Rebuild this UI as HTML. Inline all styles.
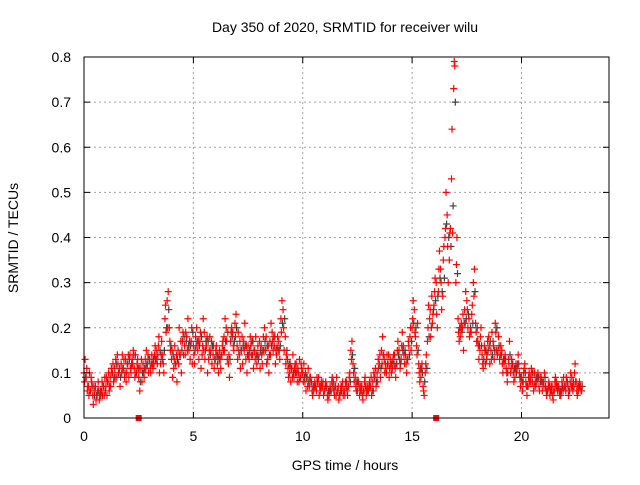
<!DOCTYPE html>
<html><head><meta charset="utf-8"><style>
body{margin:0;background:#fff}
svg text{font-family:"Liberation Sans",sans-serif;font-size:14px;fill:#000}
</style></head><body>
<svg id="chart" width="640" height="480" viewBox="0 0 640 480" xmlns="http://www.w3.org/2000/svg">
<rect width="640" height="480" fill="#fff"/>
<text x="345" y="32" text-anchor="middle">Day 350 of 2020, SRMTID for receiver wilu</text>
<text x="345" y="470" text-anchor="middle">GPS time / hours</text>
<text transform="translate(18,238) rotate(-90)" text-anchor="middle">SRMTID / TECUs</text>
<g id="grid"></g>
<g id="marks"></g>
<rect x="84" y="57" width="525" height="361" fill="none" stroke="#000" stroke-width="1"/>
<g id="ticks"></g>
</svg>
<script>
const xTicks=[0,5,10,15,20];
const yTicks=[0,0.1,0.2,0.3,0.4,0.5,0.6,0.7,0.8];
const yTickLabels=["0","0.1","0.2","0.3","0.4","0.5","0.6","0.7","0.8"];
const gapHours=[2.5,16.1];
const seriesA=[
.10,.09,.07,.06,.05,.06,.05,.04,.06,.07,
.07,.08,.09,.10,.11,.09,.10,.12,.11,.13,
.12,.14,.13,.11,.10,.09,.11,.12,.13,.12,
.13,.14,.12,.15,.16,.12,.14,.22,.26,.20,
.13,.11,.12,.15,.14,.17,.16,.18,.15,.17,
.16,.18,.15,.17,.14,.19,.16,.13,.15,.14,
.13,.12,.15,.14,.18,.20,.12,.17,.19,.21,
.16,.14,.15,.17,.13,.16,.18,.14,.15,.12,
.14,.16,.18,.15,.13,.17,.19,.16,.14,.17,
.22,.24,.18,.13,.10,.11,.09,.12,.10,.09,
.10,.08,.09,.07,.08,.06,.07,.08,.06,.07,
.06,.07,.05,.06,.08,.07,.06,.05,.07,.06,
.08,.07,.15,.12,.09,.06,.05,.07,.06,.05,
.06,.07,.08,.09,.10,.12,.15,.14,.11,.12,
.13,.11,.14,.12,.15,.13,.16,.14,.13,.18,
.20,.24,.16,.12,.09,.07,.10,.17,.22,.27,
.25,.30,.28,.33,.27,.40,.45,.35,.53,.73,
.30,.22,.18,.20,.24,.26,.22,.19,.30,.21,
.17,.15,.14,.16,.13,.18,.15,.17,.21,.14,
.13,.15,.12,.11,.13,.10,.12,.09,.11,.10,
.09,.10,.08,.07,.09,.08,.10,.08,.07,.09,
.08,.07,.06,.05,.07,.06,.08,.07,.05,.06,
.07,.08,.06,.09,.07,.08,.06,.07];
const seriesB=[
.13,.06,.10,.08,.07,.04,.08,.06,.05,.09,
.05,.06,.11,.08,.13,.12,.07,.14,.09,.10,
.09,.10,.15,.14,.13,.06,.08,.09,.15,.10,
.10,.11,.16,.12,.10,.17,.10,.19,.28,.15,
.09,.16,.08,.20,.10,.14,.19,.22,.13,.12,
.12,.20,.13,.11,.22,.15,.10,.18,.12,.11,
.16,.10,.11,.17,.22,.13,.09,.20,.15,.23,
.19,.11,.12,.21,.10,.13,.14,.11,.18,.16,
.11,.12,.20,.12,.10,.21,.15,.12,.18,.13,
.26,.15,.14,.09,.08,.14,.12,.08,.13,.11,
.12,.06,.11,.09,.05,.08,.09,.05,.08,.05,
.08,.04,.07,.09,.05,.09,.04,.07,.05,.08,
.05,.10,.17,.08,.06,.08,.07,.04,.09,.07,
.08,.05,.10,.07,.13,.09,.18,.10,.14,.09,
.10,.14,.09,.17,.11,.19,.12,.10,.16,.15,
.26,.18,.21,.08,.12,.05,.14,.25,.18,.23,
.31,.20,.37,.24,.38,.50,.30,.42,.41,.78,
.40,.17,.21,.15,.28,.20,.19,.25,.33,.17,
.13,.20,.11,.12,.17,.12,.19,.13,.15,.18,
.16,.10,.14,.08,.17,.13,.08,.12,.14,.07,
.06,.12,.05,.10,.11,.06,.07,.10,.09,.06,
.10,.05,.08,.07,.04,.09,.06,.05,.08,.07,
.09,.05,.10,.06,.12,.05,.08,.06];
const seriesC=[
.08,.11,.05,.09,.03,.07,.06,.05,.08,.05,
.09,.10,.07,.12,.09,.14,.11,.10,.13,.08,
.14,.11,.12,.09,.12,.11,.13,.10,.11,.14,
.11,.12,.14,.13,.18,.14,.12,.25,.20,.17,
.15,.13,.14,.12,.17,.19,.14,.15,.17,.20,
.14,.16,.17,.19,.16,.13,.18,.15,.17,.16,
.15,.14,.13,.16,.15,.17,.14,.19,.16,.18,
.13,.17,.18,.15,.16,.14,.16,.17,.13,.14,
.17,.14,.15,.18,.16,.14,.17,.18,.16,.15,
.19,.20,.12,.11,.12,.09,.11,.10,.08,.12,
.08,.10,.07,.09,.06,.07,.06,.09,.07,.08,
.07,.05,.06,.08,.06,.05,.07,.06,.08,.05,
.06,.09,.13,.10,.07,.08,.06,.05,.08,.06,
.07,.09,.06,.11,.08,.14,.12,.13,.10,.14,
.12,.13,.11,.15,.13,.16,.14,.12,.17,.20,
.22,.19,.14,.10,.11,.06,.12,.20,.24,.21,
.28,.23,.33,.30,.35,.42,.38,.41,.64,.79,
.34,.19,.20,.23,.21,.24,.18,.23,.27,.19,
.16,.18,.12,.15,.14,.16,.13,.16,.19,.15,
.14,.12,.13,.10,.12,.11,.10,.11,.12,.09,
.08,.11,.07,.09,.08,.10,.08,.09,.06,.08,
.07,.06,.07,.06,.05,.08,.07,.06,.06,.09,
.06,.07,.08,.07,.10,.06,.07,.06];
const seriesK=[
.09,.07,.06,.07,.05,.05,.06,.05,.07,.06,
.08,.07,.10,.09,.12,.10,.09,.11,.10,.12,
.13,.12,.14,.10,.11,.08,.10,.11,.12,.13,
.12,.13,.13,.14,.15,.13,.15,.20,.24,.16,
.14,.12,.13,.14,.15,.18,.17,.16,.16,.19,
.15,.17,.16,.18,.15,.17,.17,.14,.16,.13,
.14,.13,.14,.15,.17,.19,.13,.18,.17,.20,
.15,.15,.16,.16,.14,.15,.17,.15,.14,.13,
.15,.15,.17,.16,.14,.16,.18,.15,.15,.16,
.21,.22,.15,.12,.11,.10,.10,.11,.09,.10,
.09,.09,.08,.08,.07,.07,.08,.07,.07,.06,
.07,.06,.06,.07,.07,.06,.05,.06,.06,.07,
.07,.08,.14,.11,.08,.07,.06,.06,.07,.06,
.07,.06,.09,.08,.11,.11,.14,.12,.12,.11,
.12,.12,.12,.14,.12,.15,.15,.13,.14,.17,
.21,.20,.15,.11,.10,.08,.11,.18,.20,.24,
.26,.27,.31,.28,.31,.43,.40,.38,.47,.70,
.32,.20,.19,.21,.22,.23,.20,.21,.28,.20,
.16,.16,.13,.15,.15,.17,.14,.15,.20,.16,
.14,.13,.13,.10,.14,.12,.11,.10,.12,.09,
.08,.10,.07,.08,.10,.07,.09,.09,.08,.08,
.09,.06,.07,.06,.06,.07,.07,.06,.07,.07,
.08,.06,.07,.08,.08,.07,.07,.07];
const X0=84,X1=609,Y0=418,Y1=57,XMAX=24,YMAX=0.8;
function xs(h){return X0+(X1-X0)*h/XMAX;}
function ys(v){return Y0-(Y0-Y1)*v/YMAX;}
const NS="http://www.w3.org/2000/svg";
function mk(tag,attrs,parent){const e=document.createElementNS(NS,tag);for(const k in attrs)e.setAttribute(k,attrs[k]);parent.appendChild(e);return e;}
const grid=document.getElementById('grid'),ticks=document.getElementById('ticks'),marks=document.getElementById('marks');
xTicks.forEach((t,i)=>{
  const x=xs(t);
  if(t>0){const g=mk('line',{x1:x,x2:x,y1:Y1,y2:Y0,stroke:'#a0a0a0','stroke-dasharray':'2,3'},grid);
  
  }
  mk('line',{x1:x,x2:x,y1:Y0,y2:Y0-6,stroke:'#000'},ticks);
  mk('line',{x1:x,x2:x,y1:Y1,y2:Y1+6,stroke:'#000'},ticks);
  const l=mk('text',{x:x,y:Y0+23,'text-anchor':'middle'},ticks);l.textContent=String(t);
  
  
});
yTicks.forEach((t,i)=>{
  const y=ys(t);
  if(t>0&&t<YMAX){const g=mk('line',{x1:X0,x2:X1,y1:y,y2:y,stroke:'#a0a0a0','stroke-dasharray':'2,3'},grid);
  
  }
  mk('line',{x1:X0,x2:X0+6,y1:y,y2:y,stroke:'#000'},ticks);
  mk('line',{x1:X1,x2:X1-6,y1:y,y2:y,stroke:'#000'},ticks);
  const l=mk('text',{x:X0-13,y:y+5,'text-anchor':'end'},ticks);l.textContent=yTickLabels[i];
  
  
});
function plus(h,v,col){
  const x=xs(h),y=ys(v);
  const p=mk('path',{d:`M${x-3.5},${y}h7M${x},${y-3.5}v7`,stroke:col,'stroke-width':1.2,fill:'none'},marks);
  
  
}
seriesK.forEach((v,i)=>plus(i*0.1+0.075,v,'#404040'));
seriesA.forEach((v,i)=>plus(i*0.1,v,'#ff0000'));
seriesB.forEach((v,i)=>plus(i*0.1+0.05,v,'#ff0000'));
seriesC.forEach((v,i)=>plus(i*0.1+0.025,v,'#ff0000'));
gapHours.forEach(h=>{
  const r=mk('rect',{x:xs(h)-3,y:Y0-3,width:6,height:6,fill:'#ff0000'},marks);
  
  
});
</script>
</body></html>
